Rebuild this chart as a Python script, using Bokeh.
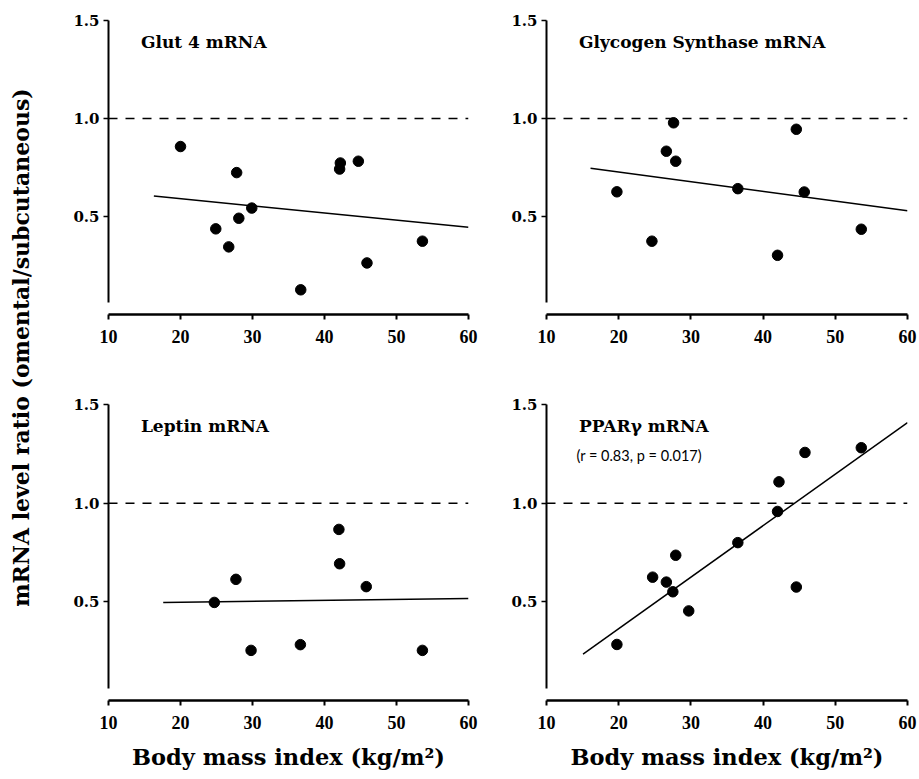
from bokeh.plotting import figure
from bokeh.layouts import row, column
from bokeh.models import Range1d, Span, Label, FixedTicker
from bokeh.embed import file_html
from bokeh.resources import INLINE

# ---- data ----
glut4_bmi = [20.0, 27.8, 24.9, 26.7, 28.1, 29.9, 36.7, 42.2, 42.1, 44.7, 45.9, 53.6]
glut4_ratio = [0.857, 0.724, 0.437, 0.345, 0.491, 0.543, 0.126, 0.773, 0.742, 0.782, 0.263, 0.374]
glut4_fit_bmi = [16.3, 60.0]
glut4_fit_ratio = [0.604, 0.445]

gs_bmi = [19.75, 24.6, 26.6, 27.6, 27.9, 36.5, 42.0, 44.6, 45.7, 53.6]
gs_ratio = [0.626, 0.374, 0.833, 0.978, 0.782, 0.642, 0.302, 0.945, 0.625, 0.435]
gs_fit_bmi = [16.1, 60.0]
gs_fit_ratio = [0.746, 0.529]

leptin_bmi = [24.7, 27.7, 29.8, 36.65, 42.0, 42.1, 45.8, 53.6]
leptin_ratio = [0.497, 0.614, 0.254, 0.283, 0.867, 0.693, 0.577, 0.254]
leptin_fit_bmi = [17.6, 60.0]
leptin_fit_ratio = [0.497, 0.517]

ppar_bmi = [19.75, 24.7, 26.6, 27.9, 27.5, 29.7, 36.5, 42.2, 42.0, 44.6, 45.8, 53.6]
ppar_ratio = [0.284, 0.625, 0.600, 0.736, 0.551, 0.454, 0.800, 1.108, 0.958, 0.575, 1.257, 1.281]
ppar_fit_bmi = [15.06, 60.0]
ppar_fit_ratio = [0.235, 1.408]

x_ticks = [10, 20, 30, 40, 50, 60]
y_ticks = [0.5, 1.0, 1.5]
y_tick_labels = ["0.5", "1.0", "1.5"]
reference_ratio = 1.0

y_title = "mRNA level ratio (omental/subcutaneous)"
x_title = "Body mass index (kg/m\u00b2)"

SERIF = "DejaVu Serif"


def panel(bmi, ratio, fit_x, fit_y, title, width, height, mbl, mbr, mbt, mbb,
          xlabel=None, note=None):
    p = figure(width=width, height=height, output_backend="svg", toolbar_location=None,
               x_range=Range1d(10, 60), y_range=Range1d(0, 1.5),
               min_border_left=mbl, min_border_right=mbr,
               min_border_top=mbt, min_border_bottom=mbb)
    p.outline_line_color = None
    p.grid.visible = False
    p.background_fill_color = "white"
    p.border_fill_color = "white"

    # axes
    xa = p.xaxis[0]
    xa.ticker = FixedTicker(ticks=x_ticks)
    xa.bounds = (10, 60)
    xa.axis_line_width = 2.5
    xa.axis_line_color = "black"
    xa.major_tick_line_width = 2
    xa.major_tick_line_color = "black"
    xa.major_tick_out = 5
    xa.major_tick_in = 0
    xa.minor_tick_line_color = None
    xa.major_label_text_font = "Liberation Serif"
    xa.major_label_text_font_style = "bold"
    xa.major_label_text_font_size = "18px"
    xa.major_label_text_color = "black"
    xa.major_label_standoff = 10
    if xlabel:
        xa.axis_label = xlabel
        xa.axis_label_text_font = SERIF
        xa.axis_label_text_font_style = "bold"
        xa.axis_label_text_font_size = "22.5px"
        xa.axis_label_text_color = "black"
        xa.axis_label_standoff = 12

    ya = p.yaxis[0]
    ya.ticker = FixedTicker(ticks=y_ticks)
    ya.major_label_overrides = {t: s for t, s in zip(y_ticks, y_tick_labels)}
    ya.bounds = (0.06, 1.5)
    ya.axis_line_width = 2
    ya.axis_line_color = "black"
    ya.major_tick_line_width = 1.5
    ya.major_tick_line_color = "black"
    ya.major_tick_out = 5
    ya.major_tick_in = 0
    ya.minor_tick_line_color = None
    ya.major_label_text_font = SERIF
    ya.major_label_text_font_style = "bold"
    ya.major_label_text_font_size = "15px"
    ya.major_label_text_color = "black"
    ya.major_label_standoff = 4

    p.add_layout(Span(location=reference_ratio, dimension="width", line_color="black",
                      line_width=1.5, line_dash="9 8"))
    p.line(fit_x, fit_y, line_color="black", line_width=1.5)
    p.scatter(bmi, ratio, size=10.5, fill_color="black", line_color="black")

    p.add_layout(Label(x=14.5, y=1.39, text=title, text_font=SERIF, text_font_style="bold",
                       text_font_size="17px", text_baseline="middle", text_color="black"))
    if note:
        p.add_layout(Label(x=14.15, y=1.24, text=note, text_font="Lato",
                           text_font_size="14.5px", text_baseline="middle", text_color="black"))
    return p


W0 = 58
p1 = panel(glut4_bmi, glut4_ratio, glut4_fit_bmi, glut4_fit_ratio, "Glut 4 mRNA",
           width=420, height=364, mbl=50, mbr=10, mbt=20, mbb=50)
p2 = panel(gs_bmi, gs_ratio, gs_fit_bmi, gs_fit_ratio, "Glycogen Synthase mRNA",
           width=439, height=364, mbl=68, mbr=10, mbt=20, mbb=50)
p3 = panel(leptin_bmi, leptin_ratio, leptin_fit_bmi, leptin_fit_ratio, "Leptin mRNA",
           width=420, height=411, mbl=50, mbr=10, mbt=40, mbb=75, xlabel=x_title)
p4 = panel(ppar_bmi, ppar_ratio, ppar_fit_bmi, ppar_fit_ratio, "PPAR\u03b3 mRNA",
           width=439, height=411, mbl=68, mbr=10, mbt=40, mbb=75, xlabel=x_title,
           note="(r = 0.83, p = 0.017)")

lab = figure(width=W0, height=775, output_backend="svg", toolbar_location=None,
             x_axis_location=None, y_axis_location=None, title_location="left",
             min_border_left=2, min_border_right=0, min_border_top=0, min_border_bottom=81)
lab.outline_line_color = None
lab.grid.visible = False
lab.title.text = y_title
lab.title.text_font = SERIF
lab.title.text_font_style = "bold"
lab.title.text_font_size = "22px"
lab.title.text_color = "black"
lab.title.align = "center"
lab.line([0, 1], [0, 1], line_alpha=0)

layout = row(lab, column(row(p1, p2), row(p3, p4)))

open("out.html", "w").write(file_html(layout, INLINE))
